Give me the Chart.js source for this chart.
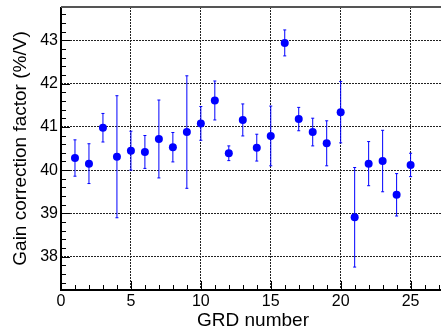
<!DOCTYPE html>
<html>
<head>
<meta charset="utf-8">
<script src="https://cdn.jsdelivr.net/npm/chart.js@4.4.1/dist/chart.umd.min.js"></script>
<style>
  html, body { margin: 0; padding: 0; background: #fff; overflow: hidden; }
  #wrap { position: relative; width: 449px; height: 333px; }
</style>
</head>
<body>
<div id="wrap"><canvas id="gain"></canvas></div>
<script>
// gain correction per GRD channel, with symmetric errors
const grdNumbers = [1, 2, 3, 4, 5, 6, 7, 8, 9, 10, 11, 12, 13, 14, 15, 16, 17, 18, 19, 20, 21, 22, 23, 24, 25];
const gainFactor = [40.28, 40.15, 40.98, 40.31, 40.45, 40.42, 40.72, 40.53, 40.88, 41.08,
                    41.61, 40.39, 41.16, 40.52, 40.79, 42.94, 41.18, 40.88, 40.62, 41.34,
                    38.91, 40.15, 40.21, 39.43, 40.12];
const gainError  = [0.42, 0.46, 0.33, 1.41, 0.45, 0.38, 0.90, 0.34, 1.30, 0.39,
                    0.45, 0.17, 0.37, 0.31, 0.69, 0.30, 0.27, 0.32, 0.52, 0.71,
                    1.15, 0.51, 0.71, 0.49, 0.27];
const xTicks = [0, 5, 10, 15, 20, 25];
const yTicks = [38, 39, 40, 41, 42, 43];

const X_MIN = 0, X_MAX = 27.46;
const Y_MIN = 37.23, Y_MAX = 43.77;

const points = grdNumbers.map((n, i) => ({ x: n, y: gainFactor[i], err: gainError[i] }));

const FONT = 'Liberation Sans, Arial, sans-serif';

// ROOT-like frame: inward ticks, thick axes, error bars under the markers
const rootFrame = {
  id: 'rootFrame',
  beforeDatasetsDraw(chart) {
    const { ctx, scales: { x, y } } = chart;
    ctx.save();
    ctx.strokeStyle = '#0000ff';
    ctx.lineWidth = 1;
    chart.data.datasets[0].data.forEach(p => {
      const px = x.getPixelForValue(p.x);
      const top = y.getPixelForValue(p.y + p.err);
      const bot = y.getPixelForValue(p.y - p.err);
      ctx.beginPath();
      ctx.moveTo(px, top); ctx.lineTo(px, bot);
      ctx.moveTo(px - 1.5, top); ctx.lineTo(px + 1.5, top);
      ctx.moveTo(px - 1.5, bot); ctx.lineTo(px + 1.5, bot);
      ctx.stroke();
    });
    ctx.restore();
  },
  afterDraw(chart) {
    const { ctx, chartArea: a, scales: { x, y } } = chart;
    ctx.save();
    ctx.strokeStyle = '#000';
    ctx.lineWidth = 1;
    ctx.beginPath();
    // y ticks every 0.2, major at integers
    for (let k = Math.ceil(Y_MIN * 5); k <= Math.floor(Y_MAX * 5); k++) {
      const py = Math.round(y.getPixelForValue(k / 5)) + 0.5;
      const len = k % 5 === 0 ? 9 : 5;
      ctx.moveTo(a.left, py); ctx.lineTo(a.left + len, py);
    }
    // x ticks every 1, major every 5
    for (let k = Math.ceil(X_MIN); k <= Math.floor(X_MAX); k++) {
      const px = Math.round(x.getPixelForValue(k)) + 0.5;
      const len = k % 5 === 0 ? 9 : 5;
      ctx.moveTo(px, a.bottom); ctx.lineTo(px, a.bottom - len);
    }
    ctx.stroke();

    ctx.lineWidth = 2;
    ctx.beginPath();
    ctx.moveTo(a.left, a.top); ctx.lineTo(a.left, a.bottom + 1);
    ctx.moveTo(a.left - 1, a.bottom); ctx.lineTo(a.right, a.bottom);
    ctx.stroke();
    ctx.strokeStyle = '#555';
    ctx.beginPath();
    ctx.moveTo(a.left, a.top); ctx.lineTo(a.right, a.top);
    ctx.stroke();
    ctx.restore();
  }
};

new Chart(document.getElementById('gain'), {
  type: 'scatter',
  data: {
    datasets: [{
      data: points,
      pointRadius: 4,
      pointHoverRadius: 4,
      pointBackgroundColor: '#0000ff',
      pointBorderWidth: 0
    }]
  },
  options: {
    responsive: true,
    maintainAspectRatio: false,
    animation: false,
    layout: { padding: { top: 7, left: 0, right: 0, bottom: 0 } },
    plugins: { legend: { display: false }, tooltip: { enabled: false } },
    scales: {
      x: {
        type: 'linear',
        min: X_MIN,
        max: X_MAX,
        afterBuildTicks: s => { s.ticks = xTicks.map(v => ({ value: v })); },
        afterFit: s => { s.height = 43; s.paddingLeft = 0; s.paddingRight = 0; },
        grid: { color: '#222', lineWidth: 1, drawTicks: false },
        border: { display: false, dash: [2, 1] },
        ticks: { color: '#000', padding: 2, maxRotation: 0, autoSkip: false, font: { family: FONT, size: 16 } },
        title: {
          display: true, text: 'GRD number', color: '#000',
          font: { family: FONT, size: 19 }, padding: { top: 0, bottom: 1 }
        }
      },
      y: {
        type: 'linear',
        min: Y_MIN,
        max: Y_MAX,
        afterBuildTicks: s => { s.ticks = yTicks.map(v => ({ value: v })); },
        afterFit: s => { s.width = 61; s.paddingTop = 0; s.paddingBottom = 0; },
        grid: { color: '#222', lineWidth: 1, drawTicks: false },
        border: { display: false, dash: [2, 1] },
        ticks: { color: '#000', padding: 3, autoSkip: false, font: { family: FONT, size: 16 } },
        title: {
          display: true, text: 'Gain correction factor (%/V)', color: '#000',
          font: { family: FONT, size: 19 }, padding: { top: 9, bottom: 0 }
        }
      }
    }
  },
  plugins: [rootFrame]
});
</script>
</body>
</html>
